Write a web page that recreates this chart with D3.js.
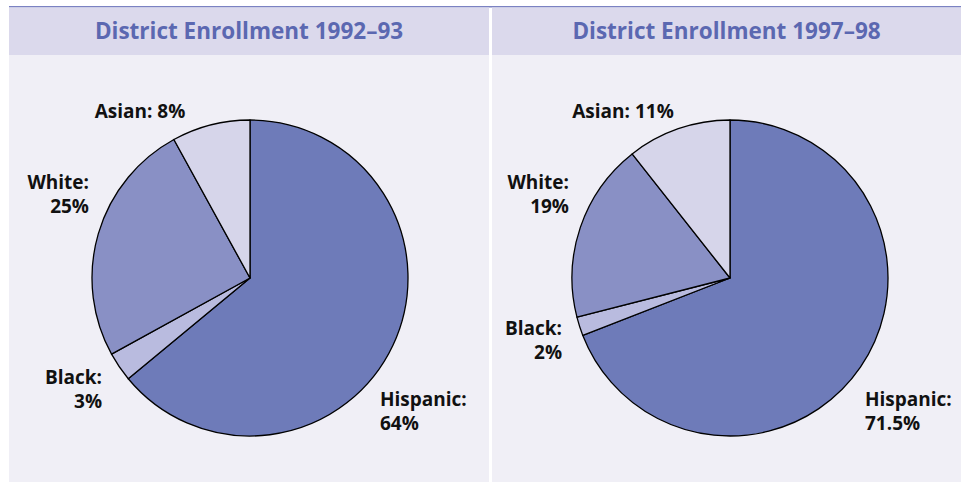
<!DOCTYPE html>
<html>
<head>
<meta charset="utf-8">
<script src="https://cdn.jsdelivr.net/npm/d3@7"></script>
<style>
  html, body { margin: 0; padding: 0; background: #ffffff; }
  svg { display: block; }
</style>
</head>
<body>
<svg id="chart" width="961" height="482"></svg>
<script>
// ---- Data ----
const categories = ["Hispanic", "Black", "White", "Asian"];
const titles = ["District Enrollment 1992\u201393", "District Enrollment 1997\u201398"];
const values1992 = [64, 3, 25, 8];
const values1997 = [71.5, 2, 19, 11];
const labels1992 = [["Hispanic:", "64%"], ["Black:", "3%"], ["White:", "25%"], ["Asian: 8%"]];
const labels1997 = [["Hispanic:", "71.5%"], ["Black:", "2%"], ["White:", "19%"], ["Asian: 11%"]];

// ---- Styles / layout ----
const colors = d3.scaleOrdinal().domain(categories)
  .range(["#6e7bb9", "#b9bbdf", "#8990c5", "#d6d5ea"]);
const svg = d3.select("#chart");
const font = "'Open Sans', 'Noto Sans', sans-serif";

// top rule
svg.append("rect").attr("x", 9).attr("y", 6).attr("width", 952).attr("height", 1.5).attr("fill", "#7b82c2");

const panels = [
  { x0: 9, x1: 489, cx: 250, title: titles[0], values: values1992, labels: labels1992,
    pos: [[380, 406, "start"], [102, 384, "end"], [89, 189, "end"], [140, 118, "middle"]] },
  { x0: 492, x1: 961, cx: 730, title: titles[1], values: values1997, labels: labels1997,
    pos: [[865, 406, "start"], [562, 335, "end"], [569, 189, "end"], [623, 118, "middle"]] }
];

const cy = 278, radius = 158;
const pie = d3.pie().sort(null).value(d => d);
const arc = d3.arc().innerRadius(0).outerRadius(radius);

panels.forEach(p => {
  const g = svg.append("g");
  g.append("rect").attr("x", p.x0).attr("y", 7.5).attr("width", p.x1 - p.x0).attr("height", 47.5).attr("fill", "#dbd9ec");
  g.append("rect").attr("x", p.x0).attr("y", 55).attr("width", p.x1 - p.x0).attr("height", 427).attr("fill", "#f0eff6");
  g.append("text").attr("x", (p.x0 + p.x1) / 2).attr("y", 39)
    .attr("text-anchor", "middle").attr("font-family", font).attr("font-weight", "bold")
    .attr("font-size", 22.5).attr("fill", "#5b68b1").text(p.title);

  const pg = g.append("g").attr("transform", `translate(${p.cx},${cy})`);
  pg.selectAll("path").data(pie(p.values)).join("path")
    .attr("d", arc)
    .attr("fill", (d, i) => colors(categories[i]))
    .attr("stroke", "#000").attr("stroke-width", 1.3).attr("stroke-linejoin", "round");

  p.labels.forEach((lines, i) => {
    const [x, y, anchor] = p.pos[i];
    const t = g.append("text").attr("x", x).attr("y", y).attr("text-anchor", anchor)
      .attr("font-family", font).attr("font-weight", "bold").attr("font-size", 19).attr("fill", "#111");
    lines.forEach((ln, j) => {
      t.append("tspan").attr("x", x).attr("dy", j === 0 ? 0 : 24).text(ln);
    });
  });
});
</script>
</body>
</html>
